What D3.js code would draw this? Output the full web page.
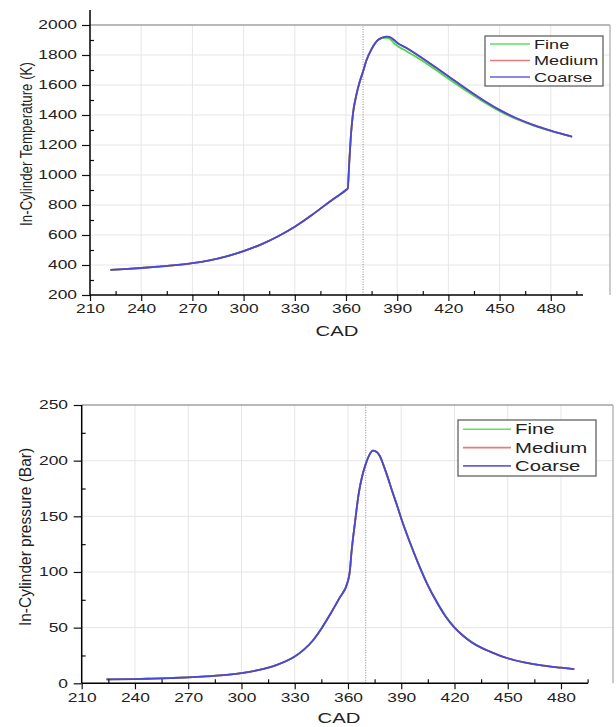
<!DOCTYPE html>
<html>
<head>
<meta charset="utf-8">
<script src="https://cdn.jsdelivr.net/npm/d3@7"></script>
<style>
  body { margin: 0; background: #fff; }
  svg { display: block; font-family: "Liberation Sans", Arial, sans-serif; }
  .grid line { stroke: #e6e6e6; stroke-width: 1; }
</style>
</head>
<body>
<div id="chart"></div>
<script>
// crank angle (deg) for the temperature curves
var cadT = [222, 230, 240, 250, 260, 270, 280, 290, 300, 310, 320, 330, 340, 345, 350, 355, 360, 361,
            362, 363, 364, 366, 368, 370, 372, 375, 378, 381, 384, 386, 388, 390, 395, 400, 410, 420,
            430, 440, 450, 460, 470, 480, 490, 492.5];
var tempFine   = [367, 372, 380, 389, 399, 412, 431, 458, 493, 536, 590, 655, 733, 776, 818, 859, 900, 910,
                  1100, 1280, 1400, 1530, 1620, 1690, 1765, 1838, 1890, 1912, 1915, 1905, 1880, 1862, 1828, 1795, 1722, 1642,
                  1565, 1492, 1426, 1372, 1329, 1294, 1263, 1255];
var tempMedium = [367, 372, 380, 389, 399, 412, 431, 458, 493, 536, 590, 655, 733, 776, 818, 859, 900, 910,
                  1100, 1280, 1400, 1530, 1620, 1690, 1765, 1840, 1893, 1915, 1922, 1917, 1900, 1881, 1849, 1814, 1737, 1657,
                  1577, 1501, 1433, 1377, 1332, 1295, 1263, 1255];
var tempCoarse = [367, 372, 380, 389, 399, 412, 431, 458, 493, 536, 590, 655, 733, 776, 818, 859, 900, 910,
                  1100, 1280, 1400, 1530, 1620, 1690, 1765, 1840, 1893, 1915, 1923, 1918, 1902, 1882, 1850, 1815, 1738, 1658,
                  1578, 1502, 1434, 1378, 1333, 1296, 1264, 1256];

// crank angle (deg) for the pressure curves
var cadP = [224, 240, 250, 260, 270, 280, 290, 300, 310, 320, 330, 335, 340, 345, 350, 355, 360, 361, 362,
            364, 366, 368, 370, 372, 374, 376, 378, 380, 382, 385, 388, 390, 395, 400, 405, 410, 415, 420,
            425, 430, 435, 440, 450, 460, 470, 480, 487.5];
var presFine   = [3.5, 3.8, 4.2, 4.7, 5.3, 6.2, 7.4, 9.2, 12, 16.5, 24, 30, 38, 49, 62, 76, 92, 100, 118,
                  145, 170, 186, 197, 205, 209, 208, 204, 196, 187, 172.5, 158.5, 148.5, 126.5, 106.5, 88.5, 73.5, 60.5, 50.5,
                  42.8, 36.8, 32.2, 28.6, 22.5, 18.5, 15.8, 14, 12.8];
var presMedium = [3.5, 3.8, 4.2, 4.7, 5.3, 6.2, 7.4, 9.2, 12, 16.5, 24, 30, 38, 49, 62, 76, 92, 100, 118,
                  145, 170, 186, 197, 205, 209, 208, 204, 196, 187, 172, 158, 148, 126, 106, 88, 73, 60, 50,
                  42.5, 36.5, 32, 28.5, 22.5, 18.5, 15.8, 14, 12.8];
var presCoarse = [3.5, 3.8, 4.2, 4.7, 5.3, 6.2, 7.4, 9.2, 12, 16.5, 24, 30, 38, 49, 62, 76, 92, 100, 118,
                  145, 170, 186, 197, 205, 209, 208, 204, 196, 187, 172, 158, 148, 126, 106, 88, 73, 60, 50,
                  42.5, 36.5, 32, 28.5, 22.5, 18.5, 15.8, 14, 12.8];

var seriesNames = ["Fine", "Medium", "Coarse"];
var seriesColors = ["#44dd44", "#e06868", "#4848d8"];
var cadTicks = [210, 240, 270, 300, 330, 360, 390, 420, 450, 480];
var cadMinor = [225, 255, 285, 315, 345, 375, 405, 435, 465, 495];
var tempTicks = [200, 400, 600, 800, 1000, 1200, 1400, 1600, 1800, 2000];
var tempMinor = [300, 500, 700, 900, 1100, 1300, 1500, 1700, 1900];
var presTicks = [0, 50, 100, 150, 200, 250];
var presMinor = [25, 75, 125, 175, 225];
var tdcLine = 370;

var svg = d3.select("#chart").append("svg")
    .attr("width", 616)
    .attr("height", 727);

var sx = 1.45; // the picture is stretched sideways

function panel(p) {
    var x = d3.scaleLinear().domain(p.xDomain).range(p.xRange);
    var y = d3.scaleLinear().domain(p.yDomain).range(p.yRange);
    var x0 = p.xRange[0], x1 = p.xRange[1], yb = p.yRange[0], yt = p.yRange[1];
    var g = svg.append("g");

    // grid
    var grid = g.append("g").attr("class", "grid");
    grid.selectAll(".gx").data(cadTicks.slice(1)).enter().append("line")
        .attr("x1", function(d) { return x(d); }).attr("x2", function(d) { return x(d); })
        .attr("y1", yb).attr("y2", yt);
    grid.selectAll(".gy").data(p.yTicks.slice(1)).enter().append("line")
        .attr("x1", x0).attr("x2", x1)
        .attr("y1", function(d) { return y(d); }).attr("y2", function(d) { return y(d); });

    // frame top / right
    g.append("line").attr("x1", x0).attr("x2", x1).attr("y1", yt).attr("y2", yt)
        .attr("stroke", "#808080").attr("stroke-width", 1.2);
    g.append("line").attr("x1", x1).attr("x2", x1).attr("y1", yt).attr("y2", yb)
        .attr("stroke", "#a8a8a8").attr("stroke-width", 1.2);

    // dotted TDC line
    g.append("line").attr("x1", x(tdcLine)).attr("x2", x(tdcLine)).attr("y1", yb).attr("y2", yt)
        .attr("stroke", "#888").attr("stroke-width", 1).attr("stroke-dasharray", "1,1.5");

    // curves
    var line = d3.line()
        .x(function(d) { return x(d[0]); })
        .y(function(d) { return y(d[1]); })
        .curve(d3.curveMonotoneX);
    p.series.forEach(function(vals, i) {
        g.append("path")
            .datum(p.cad.map(function(c, j) { return [c, vals[j]]; }))
            .attr("fill", "none")
            .attr("stroke", seriesColors[i])
            .attr("stroke-width", 1.8)
            .attr("d", line);
    });

    // axes
    var ax = g.append("g").attr("transform", "translate(0," + yb + ")")
        .call(d3.axisBottom(x).tickValues(cadTicks).tickSize(6).tickSizeOuter(0).tickFormat(d3.format("d")));
    ax.select(".domain").remove();
    ax.selectAll("text").attr("y", p.xLabelOff).attr("dy", 0)
        .attr("transform", "scale(" + sx + ",1)")
        .style("font-size", p.tickFont + "px").style("fill", "#222");
    g.append("g").attr("transform", "translate(0," + yb + ")")
        .call(d3.axisBottom(x).tickValues(cadMinor).tickSize(-4).tickFormat(""))
        .select(".domain").remove();
    g.append("line").attr("x1", x0).attr("x2", p.xAxisEnd).attr("y1", yb).attr("y2", yb)
        .attr("stroke", "#000").attr("stroke-width", 1.5);

    var ay = g.append("g").attr("transform", "translate(" + x0 + ",0)")
        .call(d3.axisLeft(y).tickValues(p.yTicks).tickSize(8).tickSizeOuter(0).tickFormat(d3.format("d")));
    ay.select(".domain").remove();
    ay.selectAll("text").attr("x", -p.yLabelOff / sx)
        .attr("transform", "scale(" + sx + ",1)")
        .style("font-size", p.tickFont + "px").style("fill", "#222");
    g.append("g").attr("transform", "translate(" + x0 + ",0)")
        .call(d3.axisLeft(y).tickValues(p.yMinor).tickSize(-4).tickFormat(""))
        .select(".domain").remove();
    g.append("line").attr("x1", x0).attr("x2", x0).attr("y1", p.yAxisTop).attr("y2", yb)
        .attr("stroke", "#000").attr("stroke-width", 1.5);
    g.selectAll(".tick line").attr("stroke", "#111").attr("stroke-width", 1.2);

    // axis titles
    g.append("text")
        .attr("transform", "translate(" + p.cadPos[0] + "," + p.cadPos[1] + ") scale(" + sx + ",1)")
        .attr("text-anchor", "middle")
        .style("font-size", "14px").style("fill", "#222")
        .text("CAD");
    g.append("text")
        .attr("transform", "translate(" + p.yTitlePos[0] + "," + p.yTitlePos[1] + ") scale(" + p.yTitleStretch + ",1) rotate(-90)")
        .attr("text-anchor", "middle")
        .attr("dy", "0.35em")
        .style("font-size", p.yTitleFont + "px").style("fill", "#222")
        .text(p.yTitle);

    // legend
    var lg = p.legend;
    g.append("rect")
        .attr("x", lg.x).attr("y", lg.y).attr("width", lg.w).attr("height", lg.h)
        .attr("fill", "#fff").attr("stroke", "#555").attr("stroke-width", 1.2);
    seriesNames.forEach(function(name, i) {
        var ry = lg.y + lg.first + i * lg.step;
        g.append("line")
            .attr("x1", lg.x + 5).attr("x2", lg.x + 5 + lg.len)
            .attr("y1", ry).attr("y2", ry)
            .attr("stroke", seriesColors[i]).attr("stroke-width", 1.6).attr("opacity", 0.85);
        g.append("text")
            .attr("transform", "translate(" + (lg.x + lg.len + 9) + "," + ry + ") scale(" + sx + ",1)")
            .attr("dy", "0.36em")
            .style("font-size", lg.font + "px").style("fill", "#222")
            .text(name);
    });
}

panel({
    xDomain: [210, 514.7], xRange: [90, 610],
    yDomain: [200, 2000], yRange: [295, 25],
    yTicks: tempTicks, yMinor: tempMinor,
    cad: cadT, series: [tempFine, tempMedium, tempCoarse],
    xAxisEnd: 583, yAxisTop: 10,
    xLabelOff: 18, yLabelOff: 13, tickFont: 12,
    cadPos: [337, 336],
    yTitle: "In-Cylinder Temperature (K)", yTitlePos: [26, 144], yTitleFont: 13.3, yTitleStretch: 1.25,
    legend: { x: 485, y: 36, w: 118, h: 50, first: 8, step: 16.5, len: 40, font: 12.5 }
});

panel({
    xDomain: [210, 509.3], xRange: [81.7, 613],
    yDomain: [0, 250], yRange: [683.3, 405],
    yTicks: presTicks, yMinor: presMinor,
    cad: cadP, series: [presFine, presMedium, presCoarse],
    xAxisEnd: 588, yAxisTop: 405,
    xLabelOff: 18.4, yLabelOff: 13.7, tickFont: 12,
    cadPos: [339, 723],
    yTitle: "In-Cylinder pressure (Bar)", yTitlePos: [25, 537], yTitleFont: 15.5, yTitleStretch: 1.05,
    legend: { x: 458, y: 420, w: 138, h: 56, first: 9.3, step: 18.3, len: 48, font: 14 }
});
</script>
</body>
</html>
